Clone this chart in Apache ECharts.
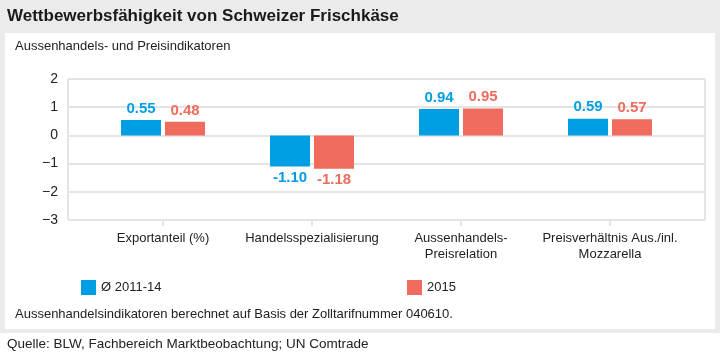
<!DOCTYPE html>
<html><head><meta charset="utf-8">
<script src="https://cdn.jsdelivr.net/npm/echarts@6/dist/echarts.min.js"></script>
<style>html,body{margin:0;padding:0;background:#fff}#c{width:720px;height:360px}</style>
</head><body><div id="c"></div>
<script>
const categories = ['Exportanteil (%)', 'Handelsspezialisierung', 'Aussenhandels-\nPreisrelation', 'Preisverhältnis Aus./inl.\nMozzarella'];
const seriesNames = ['Ø 2011-14', '2015'];
const avg2011_14 = [0.55, -1.10, 0.94, 0.59];
const values2015 = [0.48, -1.18, 0.95, 0.57];
const yMin = -3, yMax = 2, yStep = 1;
const titleText = 'Wettbewerbsfähigkeit von Schweizer Frischkäse';
const subtitleText = 'Aussenhandels- und Preisindikatoren';
const noteText = 'Aussenhandelsindikatoren berechnet auf Basis der Zolltarifnummer 040610.';
const sourceText = 'Quelle: BLW, Fachbereich Marktbeobachtung; UN Comtrade';

const FONT = "'Liberation Sans', Arial, sans-serif";
const BLUE = '#009fe3', RED = '#ee6b5d';
const GRID_C = '#e4e4e4';

function barData(arr) {
  return arr.map(v => ({ value: v, label: { position: v < 0 ? 'bottom' : 'top' } }));
}
function barSeries(name, arr, color) {
  return {
    name: name, type: 'bar', xAxisIndex: 1, yAxisIndex: 1,
    barWidth: 40, barGap: '10%',
    itemStyle: { color: color },
    label: { show: true, color: color, fontSize: 15, fontWeight: 600, fontFamily: FONT, distance: 4,
             formatter: p => p.value.toFixed(2) },
    data: barData(arr)
  };
}

const chart = echarts.init(document.getElementById('c'), null, { renderer: 'canvas' });
chart.setOption({
  animation: false,
  textStyle: { fontFamily: FONT },
  graphic: {
    elements: [
      { type: 'rect', z: -10, silent: true, shape: { x: 0, y: 0, width: 720, height: 333 }, style: { fill: '#ebebeb' } },
      { type: 'rect', z: -9, silent: true, shape: { x: 5, y: 33, width: 710, height: 296 }, style: { fill: '#ffffff' } },
      { type: 'text', left: 7, top: 8, style: { text: titleText, font: "bold 17px " + FONT, fill: '#1a1a1a' } },
      { type: 'text', left: 15, top: 40, style: { text: subtitleText, font: "13px " + FONT, fill: '#222' } },
      { type: 'text', left: 15, top: 308, style: { text: noteText, font: "13px " + FONT, fill: '#222' } },
      { type: 'text', left: 7, top: 337, style: { text: sourceText, font: "13.5px " + FONT, fill: '#222' } }
    ]
  },
  legend: [
    { data: [seriesNames[0]], left: 76, top: 275, icon: 'rect', itemWidth: 15, itemHeight: 15, itemGap: 8,
      textStyle: { fontSize: 13, color: '#222', fontFamily: FONT } },
    { data: [seriesNames[1]], left: 402, top: 275, icon: 'rect', itemWidth: 15, itemHeight: 15, itemGap: 8,
      textStyle: { fontSize: 13, color: '#222', fontFamily: FONT } }
  ],
  grid: [
    { left: 68, top: 79, width: 637, height: 141 },
    { left: 88.5, top: 79, width: 596, height: 141 }
  ],
  xAxis: [
    { type: 'value', gridIndex: 0, min: 0, max: 1, interval: 1,
      axisLabel: { show: false }, axisLine: { show: false }, axisTick: { show: false },
      splitLine: { show: true, lineStyle: { color: GRID_C, width: 2 } } },
    { type: 'category', gridIndex: 1, data: categories, position: 'bottom',
      axisLine: { show: false, onZero: false },
      axisTick: { show: true, alignWithLabel: true, length: 6, lineStyle: { color: GRID_C, width: 2 } },
      axisLabel: { interval: 0, fontSize: 13, color: '#222', margin: 10, lineHeight: 16, fontFamily: FONT } }
  ],
  yAxis: [
    { type: 'value', gridIndex: 0, min: yMin, max: yMax, interval: yStep,
      axisLine: { show: false }, axisTick: { show: false },
      axisLabel: { fontSize: 14, color: '#222', margin: 10, fontFamily: FONT,
                   formatter: v => String(v).replace('-', '\u2212') },
      splitLine: { show: true, lineStyle: { color: GRID_C, width: 2 } } },
    { type: 'value', gridIndex: 1, min: yMin, max: yMax, interval: yStep, show: false,
      splitLine: { show: false } }
  ],
  series: [
    barSeries(seriesNames[0], avg2011_14, BLUE),
    barSeries(seriesNames[1], values2015, RED)
  ]
});
</script>
</body></html>
